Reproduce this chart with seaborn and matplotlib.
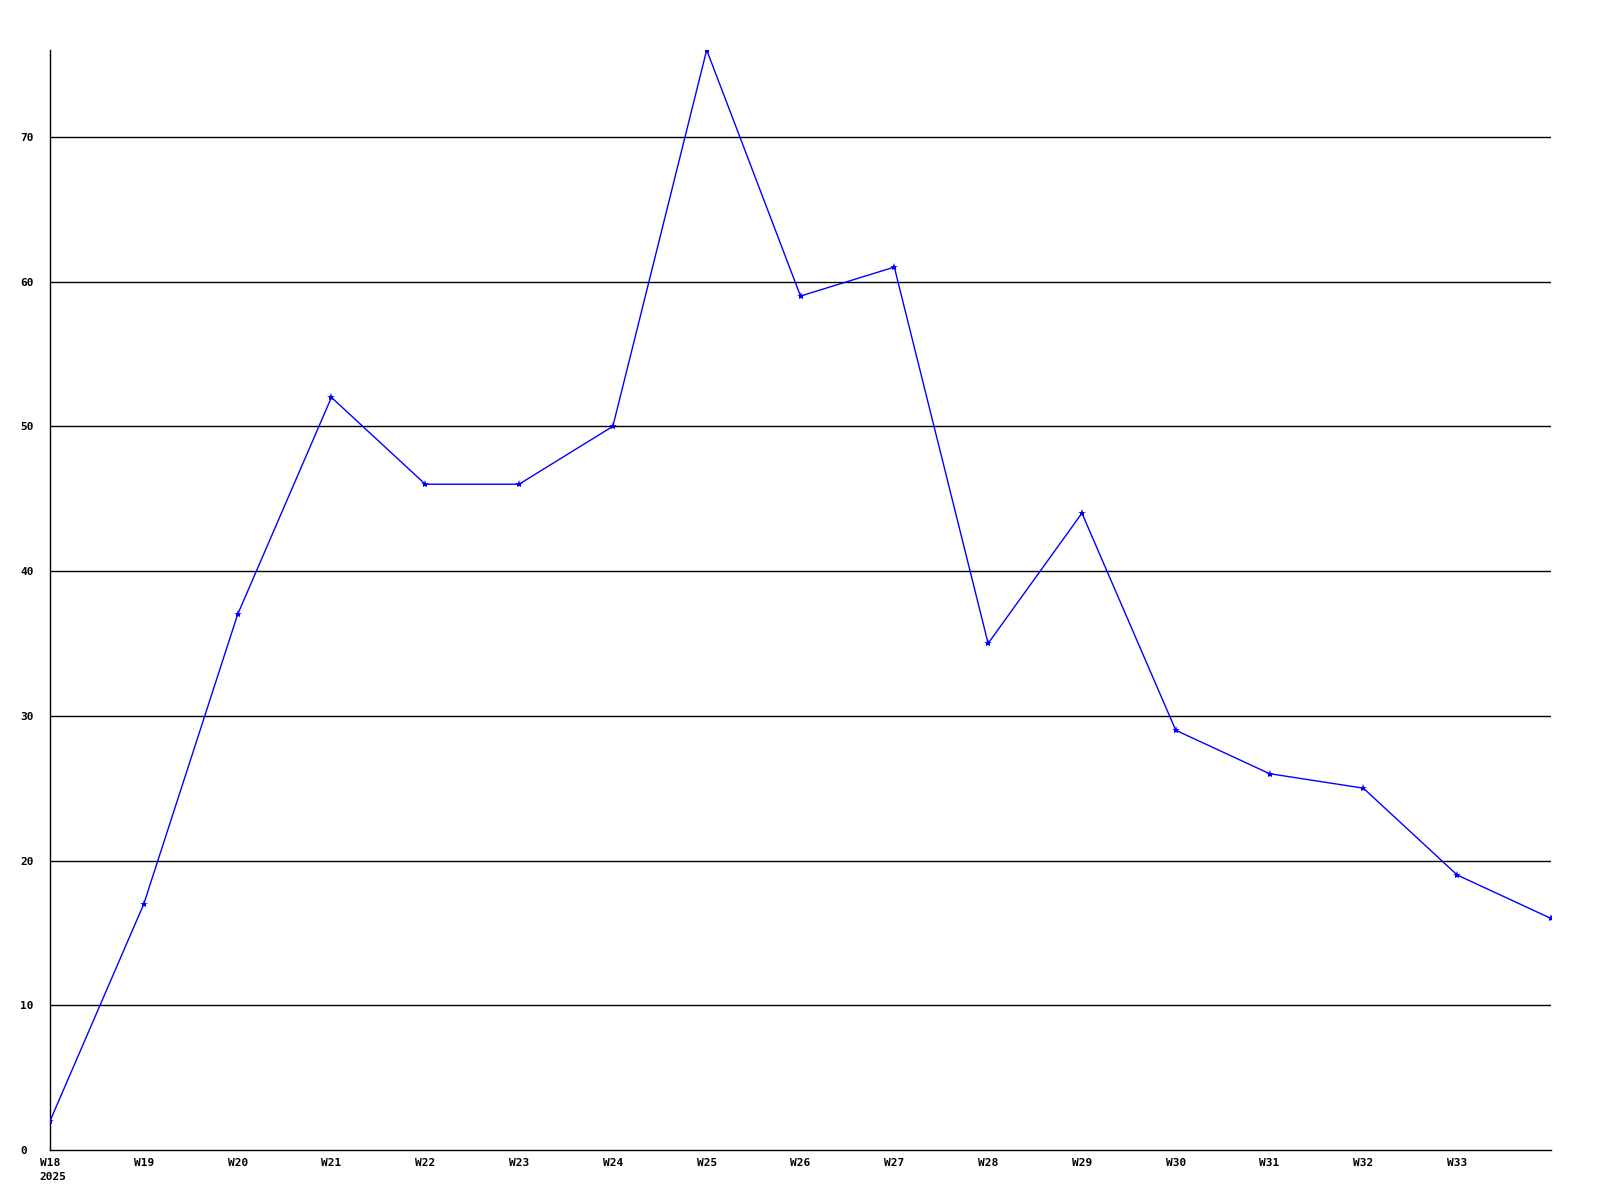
import matplotlib
matplotlib.use("Agg")
import matplotlib.pyplot as plt
import matplotlib.transforms as mtransforms
import pandas as pd
import seaborn as sns

# weekly values, W18 .. W34 (W34 is the last point, not labelled)
weeks = ["W18", "W19", "W20", "W21", "W22", "W23", "W24", "W25", "W26",
         "W27", "W28", "W29", "W30", "W31", "W32", "W33", "W34"]
counts = [2, 17, 37, 52, 46, 46, 50, 76, 59, 61, 35, 44, 29, 26, 25, 19, 16]
tick_labels = weeks[:-1]
year_label = "2025"
y_ticks = [0, 10, 20, 30, 40, 50, 60, 70]

sns.set_theme(style="white")
plt.rcParams["font.family"] = ["DejaVu Sans Mono"]
plt.rcParams["font.weight"] = "bold"

df = pd.DataFrame({"idx": range(len(weeks)), "count": counts})

fig = plt.figure(figsize=(16, 12), dpi=100)
ax = fig.add_axes([50 / 1600, 50 / 1200, 1501 / 1600, 1100 / 1200])

for v in y_ticks[1:]:
    ax.axhline(v, color="black", linewidth=1.0, zorder=1)

sns.lineplot(data=df, x="idx", y="count", ax=ax, color="#0000ff",
             linewidth=1.0, marker="*", markersize=6,
             markeredgewidth=0, zorder=3)

ax.set_xlim(0, len(weeks) - 1)
ax.set_ylim(0, 76)
ax.set_xticks(range(len(tick_labels)))
ax.set_xticklabels(tick_labels, fontsize=8, fontweight="bold")
ax.set_yticks(y_ticks)
ax.set_yticklabels([str(v) for v in y_ticks], fontsize=8, fontweight="bold")
ax.tick_params(axis="both", length=0, labelcolor="black")
ax.tick_params(axis="x", pad=6)
for lbl in ax.get_yticklabels():
    lbl.set_horizontalalignment("left")
ax.tick_params(axis="y", pad=21.5)

ax.set_xlabel("")
ax.set_ylabel("")
for side in ["top", "right"]:
    ax.spines[side].set_visible(False)
for side in ["left", "bottom"]:
    ax.spines[side].set_color("black")
    ax.spines[side].set_linewidth(1.0)

trans = mtransforms.blended_transform_factory(ax.transData, ax.transAxes)
ax.annotate(year_label, xy=(0, 0), xycoords=trans, xytext=(-11, -22),
            textcoords="offset pixels", ha="left", va="top",
            fontsize=8, fontweight="bold", color="black")

fig.savefig("out.png", dpi=100)
